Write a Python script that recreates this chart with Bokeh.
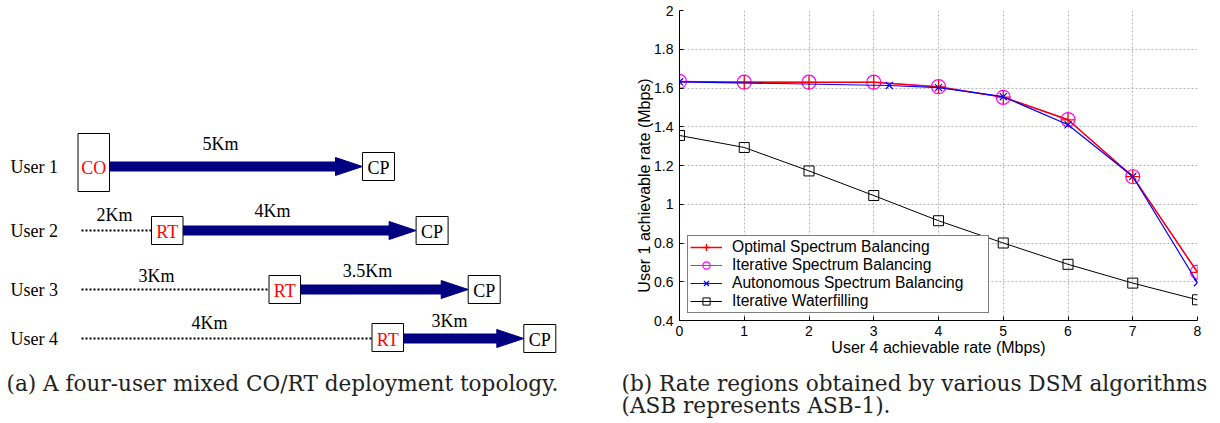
from bokeh.plotting import figure
from bokeh.models import Range1d, FixedTicker, CustomJSTickFormatter, Legend, LegendItem
from bokeh.layouts import column, row
from bokeh.embed import file_html
from bokeh.resources import INLINE
from bokeh.core.properties import value

# ---------------- chart data (panel b) ----------------
rate_user4 = [0, 1, 2, 3, 4, 5, 6, 7, 8]
osb_user1 = [1.633, 1.630, 1.629, 1.629, 1.606, 1.553, 1.436, 1.143, 0.648]
isb_user1 = [1.634, 1.630, 1.630, 1.630, 1.607, 1.552, 1.437, 1.142, 0.650]
asb_user4 = [0, 3.24, 4, 5, 6, 7, 8]
asb_user1 = [1.632, 1.613, 1.602, 1.555, 1.410, 1.143, 0.595]
iwf_user1 = [1.355, 1.293, 1.172, 1.045, 0.915, 0.800, 0.690, 0.593, 0.507]
x_ticks = [0, 1, 2, 3, 4, 5, 6, 7, 8]
y_ticks = [0.4, 0.6, 0.8, 1.0, 1.2, 1.4, 1.6, 1.8, 2.0]
series_names = ["Optimal Spectrum Balancing", "Iterative Spectrum Balancing",
                "Autonomous Spectrum Balancing", "Iterative Waterfilling"]
x_title = "User 4 achievable rate (Mbps)"
y_title = "User 1 achievable rate (Mbps)"

# ---------------- diagram data (panel a) ----------------
users = ["User 1", "User 2", "User 3", "User 4"]
node_labels = ["CO", "RT", "RT", "RT"]
feeder_km = [0, 2, 3, 4]
loop_km = [5, 4, 3.5, 3]

caption_a = "(a) A four-user mixed CO/RT deployment topology."
caption_b = ["(b) Rate regions obtained by various DSM algorithms",
             "(ASB represents ASB-1)."]

# ---------------- diagram layout (schematic, not to scale) ----------------
row_y = [166, 230, 289, 338]
node_left = [77.5, 151, 268.5, 371.5]
node_w = 31.5
node_h = [58, 28, 28, 28]
node_dy = [-4, 0, 0, -1]
cp_left = [362, 415.6, 467.7, 523.3]
cp_w = 32
cp_h = 28
dot_start = 81
feeder_lab_x = [None, 114, 156, 209]
feeder_lab_dy = [0, -16, -14, -16]
loop_lab_x = [220, 272, 367, 449]
loop_lab_dy = [-23, -20, -19, -18]
head_len = 27
head_half = 9
shaft_half = 5
arrow_color = "#000080"
serif = value("Liberation Serif")
cap_font = value("DejaVu Serif")
cap_size = "21.6px"

left = figure(width=620, height=423, x_range=Range1d(0, 620), y_range=Range1d(423, 0),
              output_backend="svg", toolbar_location=None, min_border=0)
left.axis.visible = False
left.grid.visible = False
left.outline_line_color = None

for i in range(4):
    y = row_y[i]
    left.text(x=[10], y=[y], text=[users[i]], text_font=serif, text_font_size="18px",
              text_baseline="middle", text_align="left", text_color="black")
    if feeder_km[i] > 0:
        left.line([dot_start, node_left[i]], [y, y], line_color="black", line_width=2,
                  line_dash="2 2")
        left.text(x=[feeder_lab_x[i]], y=[y + feeder_lab_dy[i]], text=[f"{feeder_km[i]:g}Km"],
                  text_font=serif, text_font_size="18px", text_baseline="middle",
                  text_align="center", text_color="black")
    nx = node_left[i] + node_w / 2
    ny = y + node_dy[i]
    left.rect(x=[nx], y=[ny], width=node_w, height=node_h[i], fill_color="white",
              line_color="black", line_width=1)
    left.text(x=[nx], y=[y + 1], text=[node_labels[i]], text_font=serif, text_font_size="18px",
              text_baseline="middle", text_align="center", text_color="#ff0000")
    a0 = node_left[i] + node_w
    a1 = cp_left[i]
    hs = a1 - head_len
    left.quad(left=[a0], right=[hs + 1], top=[y - shaft_half], bottom=[y + shaft_half],
              fill_color=arrow_color, line_color=None)
    left.patch([hs, a1, hs], [y - head_half, y, y + head_half], fill_color=arrow_color,
               line_color=arrow_color, line_width=1)
    left.text(x=[loop_lab_x[i]], y=[y + loop_lab_dy[i]], text=[f"{loop_km[i]:g}Km"],
              text_font=serif, text_font_size="18px", text_baseline="middle",
              text_align="center", text_color="black")
    cx = cp_left[i] + cp_w / 2
    left.rect(x=[cx], y=[y], width=cp_w, height=cp_h, fill_color="white",
              line_color="black", line_width=1)
    left.text(x=[cx], y=[y + 1], text=["CP"], text_font=serif, text_font_size="18px",
              text_baseline="middle", text_align="center", text_color="black")

left.text(x=[6], y=[383], text=[caption_a], text_font=cap_font, text_font_size=cap_size,
          text_baseline="middle", text_align="left", text_color="#222222")

# ---------------- chart ----------------
p = figure(width=600, height=363, x_range=Range1d(0, 8), y_range=Range1d(0.4, 2.0),
           output_backend="svg", toolbar_location=None,
           min_border_left=59, min_border_right=23, min_border_top=10, min_border_bottom=43,
           x_axis_label=x_title,
           y_axis_label=y_title + "\u00a0" * 9)
p.outline_line_color = None
p.background_fill_color = "white"

isb_l = p.line(rate_user4, isb_user1, line_color="#ff00ff", line_width=1.2)
isb_m = p.scatter(rate_user4, isb_user1, marker="circle", size=14, fill_color=None,
                  line_color="#ff00ff", line_width=1.2)
osb_l = p.line(rate_user4, osb_user1, line_color="#ff0000", line_width=1.4)
osb_m = p.scatter(rate_user4, osb_user1, marker="cross", size=14, line_color="#ff0000",
                  line_width=1.3)
asb_l = p.line(asb_user4, asb_user1, line_color="#0000ff", line_width=1.2)
asb_m = p.scatter(asb_user4, asb_user1, marker="x", size=10, line_color="#0000ff",
                  line_width=1.2)
iwf_l = p.line(rate_user4, iwf_user1, line_color="black", line_width=1)
iwf_m = p.scatter(rate_user4, iwf_user1, marker="square", size=10, fill_color=None,
                  line_color="black", line_width=1)

lg = Legend(items=[
    LegendItem(label=series_names[0], renderers=[osb_l, osb_m]),
    LegendItem(label=series_names[1], renderers=[isb_l, isb_m]),
    LegendItem(label=series_names[2], renderers=[asb_l, asb_m]),
    LegendItem(label=series_names[3], renderers=[iwf_l, iwf_m]),
], location=(8, 7))
lg.label_text_font = "Liberation Sans"
lg.label_text_font_size = "15.6px"
lg.label_text_color = "black"
lg.border_line_color = "black"
lg.border_line_width = 1
lg.background_fill_color = "white"
lg.background_fill_alpha = 1
lg.padding = 2
lg.spacing = 0
lg.glyph_height = 18
lg.label_height = 18
lg.glyph_width = 32
lg.label_standoff = 10
lg.label_width = 254
lg.margin = 0
p.add_layout(lg)

fmt = "return (Math.round(tick*10)/10).toString();"
p.xaxis.ticker = FixedTicker(ticks=x_ticks)
p.yaxis.ticker = FixedTicker(ticks=y_ticks)
p.yaxis.formatter = CustomJSTickFormatter(code=fmt)
p.xaxis.formatter = CustomJSTickFormatter(code=fmt)
for ax in (p.xaxis, p.yaxis):
    ax.axis_line_color = "black"
    ax.axis_line_width = 1
    ax.major_tick_line_color = "black"
    ax.major_tick_in = 4
    ax.major_tick_out = 0
    ax.minor_tick_line_color = None
    ax.major_label_text_font = "Liberation Sans"
    ax.major_label_text_font_size = "14px"
    ax.major_label_text_color = "black"
    ax.axis_label_text_font = "Liberation Sans"
    ax.axis_label_text_font_size = "16px"
    ax.axis_label_text_font_style = "normal"
    ax.axis_label_text_color = "black"
p.xaxis.major_label_standoff = 5
p.yaxis.major_label_standoff = 6
p.xaxis.axis_label_standoff = 0
p.yaxis.axis_label_standoff = -2

p.grid.grid_line_color = "#b4b4b4"
p.grid.grid_line_dash = "2 2"
p.grid.grid_line_width = 1

# ---------------- caption (b) ----------------
capb = figure(width=600, height=60, x_range=Range1d(620, 1220), y_range=Range1d(423, 363),
              output_backend="svg", toolbar_location=None, min_border=0)
capb.axis.visible = False
capb.grid.visible = False
capb.outline_line_color = None
capb.text(x=[621, 621], y=[383, 405], text=caption_b, text_font=cap_font,
          text_font_size=cap_size, text_baseline="middle", text_align="left",
          text_color="#222222")

layout = row(left, column(p, row(capb, spacing=0), spacing=0), spacing=0)
open("out.html", "w").write(file_html(layout, INLINE))
